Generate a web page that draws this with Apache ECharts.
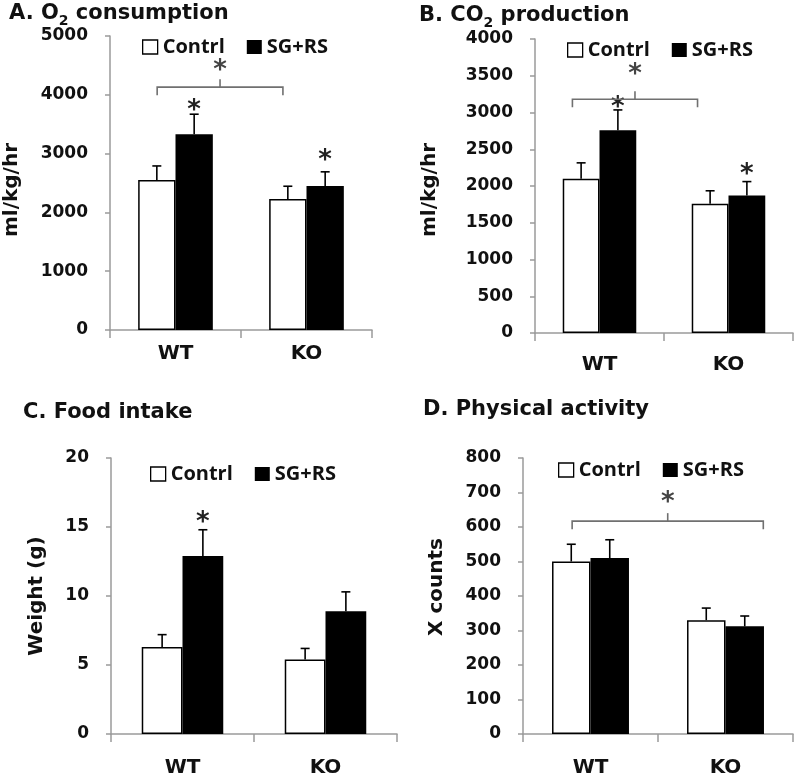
<!DOCTYPE html>
<html><head><meta charset="utf-8">
<script src="https://cdn.jsdelivr.net/npm/echarts@6/dist/echarts.min.js"></script>
<style>html,body{margin:0;padding:0;background:#fff}#c{width:796px;height:776px}</style>
</head><body><div id="c"></div>
<script>
// ---------- data ----------
const categories = ['WT', 'KO'];
const groupNames = ['Contrl', 'SG+RS'];

// A. O2 consumption (ml/kg/hr)
const o2Contrl = [2550, 2230];
const o2ContrlErr = [240, 215];
const o2SgRs = [3330, 2450];
const o2SgRsErr = [340, 240];
const o2Ticks = [0, 1000, 2000, 3000, 4000, 5000];
const o2Stars = [[0, 1, 3825], [1, 1, 2975]];           // [category, group, y]
const o2Bracket = [4130, -0.14, 0.82, 4505];             // [y, from, to, starY]

// B. CO2 production (ml/kg/hr)
const co2Contrl = [2100, 1760];
const co2ContrlErr = [215, 175];
const co2SgRs = [2760, 1870];
const co2SgRsErr = [275, 190];
const co2Ticks = [0, 500, 1000, 1500, 2000, 2500, 3000, 3500, 4000];
const co2Stars = [[0, 1, 3145], [1, 1, 2231]];
const co2Bracket = [3181, -0.21, 0.76, 3594];

// C. Food intake (g)
const foodContrl = [6.3, 5.4];
const foodContrlErr = [0.9, 0.8];
const foodSgRs = [12.9, 8.9];
const foodSgRsErr = [1.9, 1.4];
const foodTicks = [0, 5, 10, 15, 20];
const foodStars = [[0, 1, 15.7]];
const foodBracket = null;

// D. Physical activity (X counts)
const actContrl = [500, 330];
const actContrlErr = [50, 35];
const actSgRs = [510, 312];
const actSgRsErr = [53, 30];
const actTicks = [0, 100, 200, 300, 400, 500, 600, 700, 800];
const actStars = [];
const actBracket = [617, -0.136, 1.28, 687];

// ---------- layout / style ----------
const BAR_FRAC = 0.285;
const AXIS_COLOR = '#9a9a9a';
const panels = [
  { title: '{t|A. O}{s|2}{t| consumption}', tLeft: 9, tTop: 0,
    grid: { left: 110, top: 36, width: 262, height: 294 },
    ctrl: o2Contrl, ctrlErr: o2ContrlErr, sg: o2SgRs, sgErr: o2SgRsErr, ticks: o2Ticks,
    yName: 'ml/kg/hr', nameGap: 88, namePad: [0, 14, 0, 0], xMargin: 14, stars: o2Stars, bracket: o2Bracket,
    legend: { left: 142, top: 37 } },
  { title: '{t|B. CO}{s|2}{t| production}', tLeft: 419, tTop: 2,
    grid: { left: 535, top: 39, width: 258, height: 294 },
    ctrl: co2Contrl, ctrlErr: co2ContrlErr, sg: co2SgRs, sgErr: co2SgRsErr, ticks: co2Ticks,
    yName: 'ml/kg/hr', nameGap: 95, namePad: [0, 8, 0, 0], xMargin: 22, stars: co2Stars, bracket: co2Bracket,
    legend: { left: 567, top: 40 } },
  { title: '{t|C. Food intake}', tLeft: 23, tTop: 399,
    grid: { left: 111, top: 458, width: 286, height: 276 },
    ctrl: foodContrl, ctrlErr: foodContrlErr, sg: foodSgRs, sgErr: foodSgRsErr, ticks: foodTicks,
    yName: 'Weight (g)', nameGap: 64, namePad: [0, 0, 0, 0], xMargin: 24, stars: foodStars, bracket: foodBracket,
    legend: { left: 150, top: 464 } },
  { title: '{t|D. Physical activity}', tLeft: 423, tTop: 396,
    grid: { left: 523, top: 458, width: 270, height: 276 },
    ctrl: actContrl, ctrlErr: actContrlErr, sg: actSgRs, sgErr: actSgRsErr, ticks: actTicks,
    yName: 'X counts', nameGap: 76, namePad: [0, 0, 0, 18], xMargin: 24, stars: actStars, bracket: actBracket,
    legend: { left: 558, top: 460 } }
];

const titleRich = {
  t: { fontFamily: 'DejaVu Sans', fontWeight: 'bold', fontSize: 21, lineHeight: 28, color: '#111' },
  s: { fontFamily: 'DejaVu Sans', fontWeight: 'bold', fontSize: 14, lineHeight: 14, verticalAlign: 'bottom', color: '#111' }
};

function errRender(sign) {
  return function (params, api) {
    const cat = api.value(0), v = api.value(1), e = api.value(2);
    const band = api.size([1, 0])[0];
    const p0 = api.coord([cat, v]);
    const p1 = api.coord([cat, v + e]);
    const x = p0[0] + sign * band * BAR_FRAC / 2;
    const st = { stroke: '#000', lineWidth: 1.6 };
    return { type: 'group', children: [
      { type: 'line', shape: { x1: x, y1: p0[1], x2: x, y2: p1[1] }, style: st },
      { type: 'line', shape: { x1: x - 4.5, y1: p1[1], x2: x + 4.5, y2: p1[1] }, style: st }
    ]};
  };
}

const STAR_FONT = { fontFamily: 'DejaVu Sans', fontWeight: 'bold', fontSize: 26 };

function starRender(params, api) {
  const cat = api.value(0), g = api.value(1), y = api.value(2);
  const band = api.size([1, 0])[0];
  const p = api.coord([cat, y]);
  const x = p[0] + (g === 0 ? -1 : 1) * band * BAR_FRAC / 2;
  return { type: 'text', style: Object.assign({ text: '*', x: x, y: p[1] + 6, align: 'center', verticalAlign: 'middle',
    fill: '#222' }, STAR_FONT) };
}

function bracketRender(params, api) {
  const y = api.value(0), f = api.value(1), t = api.value(2), sy = api.value(3);
  const c0 = api.coord([0, y]), c1 = api.coord([1, y]);
  const d = c1[0] - c0[0];
  const xa = c0[0] + f * d, xb = c0[0] + t * d, xm = (xa + xb) / 2;
  const py = c0[1];
  const sp = api.coord([0, sy]);
  const st = { stroke: '#707070', lineWidth: 1.6, fill: null };
  return { type: 'group', children: [
    { type: 'polyline', shape: { points: [[xa, py + 8], [xa, py], [xb, py], [xb, py + 8]] }, style: st },
    { type: 'line', shape: { x1: xm, y1: py, x2: xm, y2: py - 8 }, style: st },
    { type: 'text', style: Object.assign({ text: '*', x: xm, y: sp[1] + 6, align: 'center', verticalAlign: 'middle',
      fill: '#444' }, STAR_FONT) }
  ]};
}

const option = { animation: false, backgroundColor: '#fff',
  title: [], legend: [], grid: [], xAxis: [], yAxis: [], series: [] };

panels.forEach((p, i) => {
  option.title.push({ text: p.title, left: p.tLeft, top: p.tTop, padding: 0,
    textStyle: { rich: titleRich } });
  option.grid.push(Object.assign({ containLabel: false, outerBoundsMode: 'none' }, p.grid));
  option.xAxis.push({ type: 'category', gridIndex: i, data: categories,
    axisLine: { show: true, lineStyle: { color: AXIS_COLOR, width: 1.5 } },
    axisTick: { show: true, length: 8, alignWithLabel: false, lineStyle: { color: AXIS_COLOR, width: 1.5 } },
    axisLabel: { margin: p.xMargin, color: '#111', fontFamily: 'DejaVu Sans', fontWeight: 'bold', fontSize: 20 } });
  const tk = p.ticks;
  option.yAxis.push({ type: 'value', gridIndex: i, min: tk[0], max: tk[tk.length - 1], interval: tk[1] - tk[0],
    name: p.yName, nameLocation: 'middle', nameRotate: 90, nameGap: p.nameGap,
    nameTextStyle: { color: '#111', fontFamily: 'DejaVu Sans', fontWeight: 'bold', fontSize: 20, padding: p.namePad },
    splitLine: { show: false },
    axisLine: { show: true, lineStyle: { color: AXIS_COLOR, width: 1.5 } },
    axisTick: { show: true, length: 5, lineStyle: { color: AXIS_COLOR, width: 1.5 } },
    axisLabel: { margin: 22, color: '#111', fontFamily: 'DejaVu Sans', fontWeight: 'bold', fontSize: 17,
      formatter: (v) => String(v) } });
  option.legend.push({ left: p.legend.left, top: p.legend.top, padding: 0, itemGap: 22,
    itemWidth: 15, itemHeight: 14, icon: 'rect',
    textStyle: { fontFamily: 'Open Sans', fontWeight: 'bold', fontSize: 20, color: '#111' },
    data: [
      { name: groupNames[0], itemStyle: { color: '#fff', borderColor: '#000', borderWidth: 1.3 } },
      { name: groupNames[1], itemStyle: { color: '#000', borderWidth: 0 } }
    ] });
  // bars
  option.series.push({ type: 'bar', name: groupNames[0], xAxisIndex: i, yAxisIndex: i,
    data: p.ctrl, barWidth: (BAR_FRAC * 100) + '%', barGap: '0%',
    itemStyle: { color: '#fff', borderColor: '#000', borderWidth: 1.5 }, z: 2 });
  option.series.push({ type: 'bar', name: groupNames[1], xAxisIndex: i, yAxisIndex: i,
    data: p.sg, barWidth: (BAR_FRAC * 100) + '%', barGap: '0%',
    itemStyle: { color: '#000', borderColor: '#000', borderWidth: 0 }, z: 2 });
  // error bars
  option.series.push({ type: 'custom', xAxisIndex: i, yAxisIndex: i, z: 3, silent: true,
    renderItem: errRender(-1), data: p.ctrl.map((v, k) => [k, v, p.ctrlErr[k]]) });
  option.series.push({ type: 'custom', xAxisIndex: i, yAxisIndex: i, z: 3, silent: true,
    renderItem: errRender(1), data: p.sg.map((v, k) => [k, v, p.sgErr[k]]) });
  if (p.stars.length) {
    option.series.push({ type: 'custom', xAxisIndex: i, yAxisIndex: i, z: 4, silent: true,
      renderItem: starRender, data: p.stars });
  }
  if (p.bracket) {
    option.series.push({ type: 'custom', xAxisIndex: i, yAxisIndex: i, z: 4, silent: true, clip: false,
      renderItem: bracketRender, data: [p.bracket] });
  }
});

const chart = echarts.init(document.getElementById('c'), null, { renderer: 'canvas' });
chart.setOption(option);
</script>
</body></html>
